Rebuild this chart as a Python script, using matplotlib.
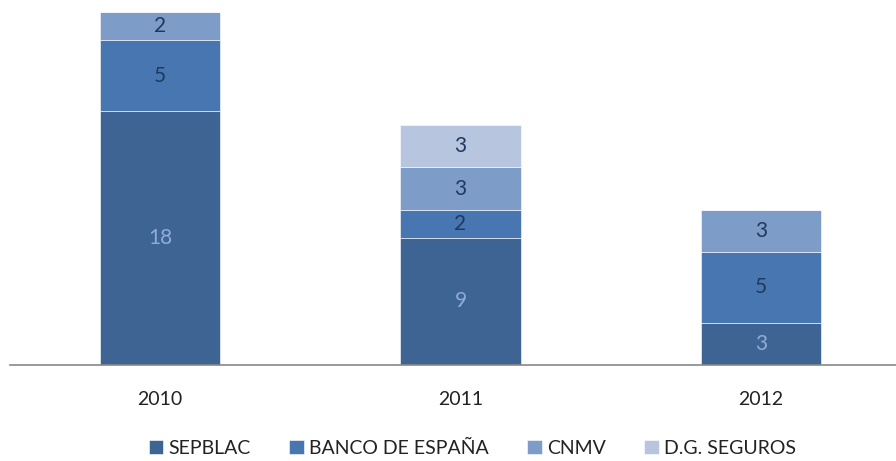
import matplotlib
matplotlib.use("Agg")
import matplotlib.pyplot as plt
import numpy as np

plt.rcParams['font.family'] = ['Lato', 'DejaVu Sans']

years = ['2010', '2011', '2012']
series = ['SEPBLAC', 'BANCO DE ESPAÑA', 'CNMV', 'D.G. SEGUROS']
sepblac = [18, 9, 3]
banco = [5, 2, 5]
cnmv = [2, 3, 3]
dgseguros = [0, 3, 0]

values = [sepblac, banco, cnmv, dgseguros]
colors = ['#3e6494', '#4876b0', '#7e9cc8', '#b7c5de']
text_colors = ['#8dadd8', '#1f3a60', '#1f3a60', '#1f3a60']

fig = plt.figure(figsize=(8.96, 4.61), dpi=100)
ax = fig.add_axes([10 / 896, 1 - 365 / 461, 886 / 896, 353 / 461])

x = np.arange(len(years))
bottom = np.zeros(len(years))
handles = []
for vals, col, tcol, name in zip(values, colors, text_colors, series):
    vals = np.array(vals, dtype=float)
    b = ax.bar(x, vals, 0.4, bottom=bottom, color=col, label=name,
               edgecolor='white', linewidth=0.4)
    handles.append(b)
    for xi, v, b0 in zip(x, vals, bottom):
        if v > 0:
            ax.text(xi, b0 + v / 2, f'{int(v)}', ha='center', va='center',
                    fontsize=15, color=tcol)
    bottom += vals

ax.set_xlim(-0.5, 2.45)
ax.set_ylim(0, 25)
ax.set_yticks([])
ax.set_xticks(x)
ax.set_xticklabels(years, fontsize=14, color='#222222')
ax.tick_params(axis='x', length=0, pad=19)
for s in ['top', 'right', 'left']:
    ax.spines[s].set_visible(False)
ax.spines['bottom'].set_color('#888888')
ax.spines['bottom'].set_linewidth(1.2)

fig.legend(handles=handles, labels=series, loc='center', bbox_to_anchor=(0.527, 1 - 448 / 461),
           ncol=4, frameon=False, fontsize=14, handlelength=0.75, handleheight=0.75,
           handletextpad=0.25, columnspacing=2.0, labelcolor='#222222')

plt.savefig('out.png', dpi=100)
